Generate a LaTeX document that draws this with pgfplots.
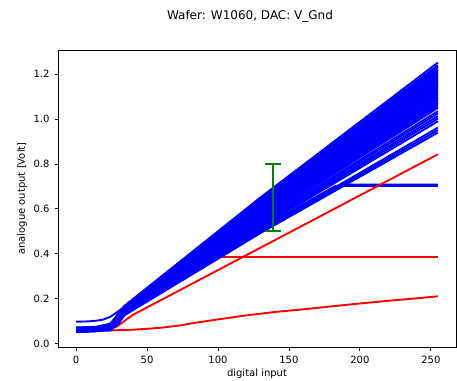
\documentclass[border=0pt]{standalone}
\usepackage{pgfplots}
\pgfplotsset{compat=1.18}
\usepackage{fontspec}
\setmainfont{DejaVu Sans}
\definecolor{mplgreen}{rgb}{0,0.5,0}
\pgfplotsset{
  bl/.style={color=blue, line width=1.9pt, mark=none, line join=round},
  rd/.style={color=red, line width=1.9pt, mark=none, line join=round},
  gr/.style={color=mplgreen, line width=1.8pt, mark=none},
}
\begin{document}
\begin{tikzpicture}
\useasboundingbox (0,0) rectangle (457pt,380pt);
\node[font=\fontsize{12}{14}\selectfont] at (250pt,364pt) {Wafer: W1060, DAC: V\_Gnd};
\begin{axis}[
  at={(58pt,33pt)}, anchor=south west,
  width=398pt, height=297pt, scale only axis,
  xmin=-12.75, xmax=267.75, ymin=-0.016, ymax=1.308,
  xtick={0,50,100,150,200,250},
  ytick={0,0.2,0.4,0.6,0.8,1.0,1.2},
  yticklabel style={/pgf/number format/.cd, fixed, fixed zerofill, precision=1, /tikz/.cd, xshift=-1.5pt},
  xticklabel style={yshift=-2.5pt},
  /pgf/number format/assume math mode=true,
  tick label style={font=\fontsize{10}{12}\selectfont},
  tick align=outside, major tick length=3.5pt,
  xtick pos=bottom, ytick pos=left,
  axis line style={line width=0.8pt},
  every tick/.style={black, line width=0.8pt},
  xlabel={digital input}, ylabel={analogue output [Volt]},
  label style={font=\fontsize{10}{12}\selectfont},
  xlabel style={at={(axis description cs:0.5,-0.0909)}, anchor=center, inner sep=0pt},
  ylabel style={at={(axis description cs:-0.090,0.5)}, anchor=center, inner sep=0pt},
]
% red curves drawn first (hidden by the blue band at low input)
\addplot[rd] coordinates {(0,0.058)(14,0.061)(24,0.064)(29,0.080)(34,0.1296)(101,0.385)(255,0.385)};
\addplot[rd] coordinates {(0,0.055)(14,0.056)(25,0.058)(40,0.061)(50,0.065)(60,0.070)(73,0.080)(85,0.093)(100,0.107)(120,0.125)(140,0.140)(160,0.152)(180,0.165)(200,0.178)(220,0.190)(240,0.201)(255,0.210)};
% saturating blue curves
\addplot[bl] coordinates {(0,0.056)(14,0.059)(24,0.062)(29,0.084)(34,0.1307)(130,0.513)(182.7,0.702)(255,0.702)};
\addplot[bl] coordinates {(0,0.061)(14,0.064)(24,0.067)(29,0.085)(34,0.1293)(130,0.507)(185.3,0.705)(255,0.705)};
\addplot[bl] coordinates {(0,0.059)(14,0.062)(24,0.064)(29,0.082)(34,0.1273)(130,0.500)(189.0,0.708)(255,0.708)};
% red linear curve
\addplot[rd] coordinates {(0,0.060)(14,0.062)(24,0.065)(29,0.076)(34,0.100)(40,0.127)(255,0.843)};
% blue curves
\addplot[bl] coordinates {(0,0.062)(14,0.065)(24,0.082)(29,0.127)(34,0.1669)(130,0.651)(255,1.252)};
\addplot[bl] coordinates {(0,0.055)(14,0.058)(24,0.075)(29,0.125)(34,0.1653)(130,0.645)(255,1.240)};
\addplot[bl] coordinates {(0,0.068)(14,0.071)(24,0.087)(29,0.124)(34,0.1644)(130,0.642)(255,1.233)};
\addplot[bl] coordinates {(0,0.058)(14,0.061)(24,0.077)(29,0.123)(34,0.1635)(130,0.638)(255,1.226)};
\addplot[bl] coordinates {(0,0.064)(14,0.067)(24,0.083)(29,0.122)(34,0.1625)(130,0.634)(255,1.219)};
\addplot[bl] coordinates {(0,0.052)(14,0.055)(24,0.070)(29,0.121)(34,0.1616)(130,0.631)(255,1.212)};
\addplot[bl] coordinates {(0,0.070)(14,0.073)(24,0.088)(29,0.120)(34,0.1607)(130,0.627)(255,1.205)};
\addplot[bl] coordinates {(0,0.060)(14,0.063)(24,0.077)(29,0.119)(34,0.1597)(130,0.624)(255,1.198)};
\addplot[bl] coordinates {(0,0.056)(14,0.059)(24,0.073)(29,0.118)(34,0.1588)(130,0.620)(255,1.191)};
\addplot[bl] coordinates {(0,0.066)(14,0.069)(24,0.083)(29,0.117)(34,0.1579)(130,0.617)(255,1.184)};
\addplot[bl] coordinates {(0,0.053)(14,0.056)(24,0.069)(29,0.116)(34,0.1569)(130,0.613)(255,1.177)};
\addplot[bl] coordinates {(0,0.061)(14,0.064)(24,0.077)(29,0.115)(34,0.1560)(130,0.609)(255,1.170)};
\addplot[bl] coordinates {(0,0.069)(14,0.072)(24,0.085)(29,0.114)(34,0.1551)(130,0.606)(255,1.163)};
\addplot[bl] coordinates {(0,0.057)(14,0.060)(24,0.072)(29,0.113)(34,0.1541)(130,0.602)(255,1.156)};
\addplot[bl] coordinates {(0,0.063)(14,0.066)(24,0.078)(29,0.112)(34,0.1532)(130,0.599)(255,1.149)};
\addplot[bl] coordinates {(0,0.051)(14,0.054)(24,0.066)(29,0.111)(34,0.1523)(130,0.595)(255,1.142)};
\addplot[bl] coordinates {(0,0.067)(14,0.070)(24,0.081)(29,0.110)(34,0.1513)(130,0.592)(255,1.135)};
\addplot[bl] coordinates {(0,0.059)(14,0.062)(24,0.073)(29,0.109)(34,0.1504)(130,0.588)(255,1.128)};
\addplot[bl] coordinates {(0,0.054)(14,0.057)(24,0.067)(29,0.108)(34,0.1495)(130,0.585)(255,1.121)};
\addplot[bl] coordinates {(0,0.065)(14,0.068)(24,0.078)(29,0.107)(34,0.1485)(130,0.581)(255,1.114)};
\addplot[bl] coordinates {(0,0.058)(14,0.061)(24,0.071)(29,0.106)(34,0.1476)(130,0.577)(255,1.107)};
\addplot[bl] coordinates {(0,0.071)(14,0.074)(24,0.083)(29,0.105)(34,0.1467)(130,0.574)(255,1.100)};
\addplot[bl] coordinates {(0,0.052)(14,0.055)(24,0.064)(29,0.104)(34,0.1457)(130,0.570)(255,1.093)};
\addplot[bl] coordinates {(0,0.062)(14,0.065)(24,0.074)(29,0.103)(34,0.1448)(130,0.567)(255,1.086)};
\addplot[bl] coordinates {(0,0.056)(14,0.059)(24,0.067)(29,0.102)(34,0.1439)(130,0.563)(255,1.079)};
\addplot[bl] coordinates {(0,0.068)(14,0.071)(24,0.079)(29,0.101)(34,0.1429)(130,0.560)(255,1.072)};
\addplot[bl] coordinates {(0,0.060)(14,0.063)(24,0.071)(29,0.100)(34,0.1420)(130,0.556)(255,1.065)};
\addplot[bl] coordinates {(0,0.053)(14,0.056)(24,0.063)(29,0.099)(34,0.1411)(130,0.552)(255,1.058)};
\addplot[bl] coordinates {(0,0.064)(14,0.067)(24,0.074)(29,0.098)(34,0.1400)(130,0.548)(255,1.050)};
\addplot[bl] coordinates {(0,0.057)(14,0.060)(24,0.066)(29,0.095)(34,0.1380)(130,0.541)(255,1.035)};
\addplot[bl] coordinates {(0,0.062)(14,0.065)(24,0.070)(29,0.094)(34,0.1367)(130,0.536)(255,1.025)};
\addplot[bl] coordinates {(0,0.055)(14,0.058)(24,0.063)(29,0.092)(34,0.1351)(130,0.529)(255,1.013)};
\addplot[bl] coordinates {(0,0.060)(14,0.063)(24,0.067)(29,0.090)(34,0.1336)(130,0.524)(255,1.002)};
\addplot[bl] coordinates {(0,0.052)(14,0.055)(24,0.059)(29,0.088)(34,0.1320)(130,0.518)(255,0.990)};
\addplot[bl] coordinates {(0,0.058)(14,0.061)(24,0.063)(29,0.085)(34,0.1283)(130,0.503)(255,0.962)};
\addplot[bl] coordinates {(0,0.063)(14,0.066)(24,0.068)(29,0.084)(34,0.1268)(130,0.498)(255,0.951)};
\addplot[bl] coordinates {(0,0.054)(14,0.057)(24,0.058)(29,0.082)(34,0.1253)(130,0.492)(255,0.940)};
\addplot[bl] coordinates {(0,0.097)(8,0.098)(14,0.101)(19,0.106)(24,0.118)(29,0.140)(34,0.1627)(130,0.635)(255,1.220)};
% error bar (vertical bar and two caps)
\addplot[gr] coordinates {(139,0.5)(139,0.8)};
\addplot[gr] coordinates {(133.4,0.8)(144.6,0.8)};
\addplot[gr] coordinates {(133.4,0.5)(144.6,0.5)};
\end{axis}
\end{tikzpicture}
\end{document}
